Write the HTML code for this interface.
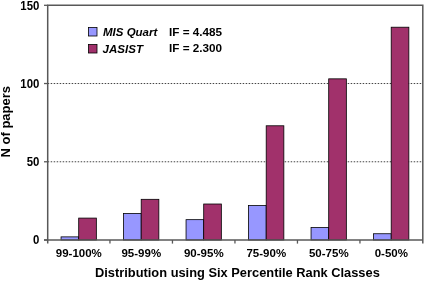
<!DOCTYPE html>
<html><head><meta charset="utf-8"><style>
html,body{margin:0;padding:0;background:#fff;overflow:hidden;}
svg{display:block;will-change:transform;}
text{font-family:"Liberation Sans",sans-serif;font-weight:bold;fill:#000;}
</style></head><body>
<svg width="425" height="281" viewBox="0 0 425 281">
<rect width="425" height="281" fill="#fff"/>
<line x1="47.7" y1="161.77" x2="422.8" y2="161.77" stroke="#444" stroke-width="1" stroke-dasharray="1.5 1.5"/><line x1="47.7" y1="83.53" x2="422.8" y2="83.53" stroke="#444" stroke-width="1" stroke-dasharray="1.5 1.5"/>
<rect x="61.05" y="236.87" width="17.65" height="3.13" fill="#9797ff" stroke="#000" stroke-width="0.8"/><rect x="78.70" y="218.09" width="17.65" height="21.91" fill="#a1316b" stroke="#000" stroke-width="0.8"/><rect x="123.55" y="213.40" width="17.65" height="26.60" fill="#9797ff" stroke="#000" stroke-width="0.8"/><rect x="141.20" y="199.32" width="17.65" height="40.68" fill="#a1316b" stroke="#000" stroke-width="0.8"/><rect x="186.05" y="219.66" width="17.65" height="20.34" fill="#9797ff" stroke="#000" stroke-width="0.8"/><rect x="203.70" y="204.01" width="17.65" height="35.99" fill="#a1316b" stroke="#000" stroke-width="0.8"/><rect x="248.55" y="205.58" width="17.65" height="34.42" fill="#9797ff" stroke="#000" stroke-width="0.8"/><rect x="266.20" y="125.78" width="17.65" height="114.22" fill="#a1316b" stroke="#000" stroke-width="0.8"/><rect x="311.05" y="227.48" width="17.65" height="12.52" fill="#9797ff" stroke="#000" stroke-width="0.8"/><rect x="328.70" y="78.84" width="17.65" height="161.16" fill="#a1316b" stroke="#000" stroke-width="0.8"/><rect x="373.55" y="233.74" width="17.65" height="6.26" fill="#9797ff" stroke="#000" stroke-width="0.8"/><rect x="391.20" y="27.21" width="17.65" height="212.79" fill="#a1316b" stroke="#000" stroke-width="0.8"/>
<path d="M47.7,243.6 V5.3 H422.8 V243.6" fill="none" stroke="#585858" stroke-width="1.5"/>
<line x1="44" y1="240.0" x2="422.8" y2="240.0" stroke="#585858" stroke-width="1.5"/>
<line x1="109.95" y1="240.0" x2="109.95" y2="243.6" stroke="#585858" stroke-width="1.3"/><line x1="172.45" y1="240.0" x2="172.45" y2="243.6" stroke="#585858" stroke-width="1.3"/><line x1="234.95" y1="240.0" x2="234.95" y2="243.6" stroke="#585858" stroke-width="1.3"/><line x1="297.45" y1="240.0" x2="297.45" y2="243.6" stroke="#585858" stroke-width="1.3"/><line x1="359.95" y1="240.0" x2="359.95" y2="243.6" stroke="#585858" stroke-width="1.3"/><line x1="44" y1="240.00" x2="47.7" y2="240.00" stroke="#585858" stroke-width="1.3"/><line x1="44" y1="161.77" x2="47.7" y2="161.77" stroke="#585858" stroke-width="1.3"/><line x1="44" y1="83.53" x2="47.7" y2="83.53" stroke="#585858" stroke-width="1.3"/><line x1="44" y1="5.30" x2="47.7" y2="5.30" stroke="#585858" stroke-width="1.3"/>
<rect x="88.5" y="27.5" width="8.5" height="8.5" fill="#9797ff" stroke="#000" stroke-width="0.8"/>
<rect x="88.5" y="44.5" width="8.5" height="8.5" fill="#a1316b" stroke="#000" stroke-width="0.8"/>
<text x="39.4" y="244.30" font-size="12" text-anchor="end" textLength="6.35" lengthAdjust="spacingAndGlyphs">0</text><text x="39.4" y="166.07" font-size="12" text-anchor="end" textLength="12.70" lengthAdjust="spacingAndGlyphs">50</text><text x="39.4" y="87.83" font-size="12" text-anchor="end" textLength="19.05" lengthAdjust="spacingAndGlyphs">100</text><text x="39.4" y="9.60" font-size="12" text-anchor="end" textLength="19.05" lengthAdjust="spacingAndGlyphs">150</text><text x="78.80" y="256.95" font-size="11.5" text-anchor="middle">99-100%</text><text x="141.30" y="256.95" font-size="11.5" text-anchor="middle">95-99%</text><text x="203.80" y="256.95" font-size="11.5" text-anchor="middle">90-95%</text><text x="266.30" y="256.95" font-size="11.5" text-anchor="middle">75-90%</text><text x="328.80" y="256.95" font-size="11.5" text-anchor="middle">50-75%</text><text x="391.30" y="256.95" font-size="11.5" text-anchor="middle">0-50%</text><text x="95.00" y="276.96" font-size="12.5" textLength="284.80" lengthAdjust="spacingAndGlyphs">Distribution using Six Percentile Rank Classes</text><text x="103.00" y="35.80" font-size="11.5" font-style="italic" textLength="54.32" lengthAdjust="spacingAndGlyphs">MIS Quart</text><text x="102.50" y="52.64" font-size="11.5" font-style="italic" textLength="40.47" lengthAdjust="spacingAndGlyphs">JASIST</text><text x="169.00" y="36.40" font-size="11.5" textLength="53.11" lengthAdjust="spacingAndGlyphs">IF = 4.485</text><text x="169.00" y="52.18" font-size="11.5" textLength="53.11" lengthAdjust="spacingAndGlyphs">IF = 2.300</text><text transform="translate(10.40,121.70) rotate(-90)" font-size="12.5" text-anchor="middle" textLength="71.60" lengthAdjust="spacingAndGlyphs">N of papers</text>
</svg>
</body></html>
